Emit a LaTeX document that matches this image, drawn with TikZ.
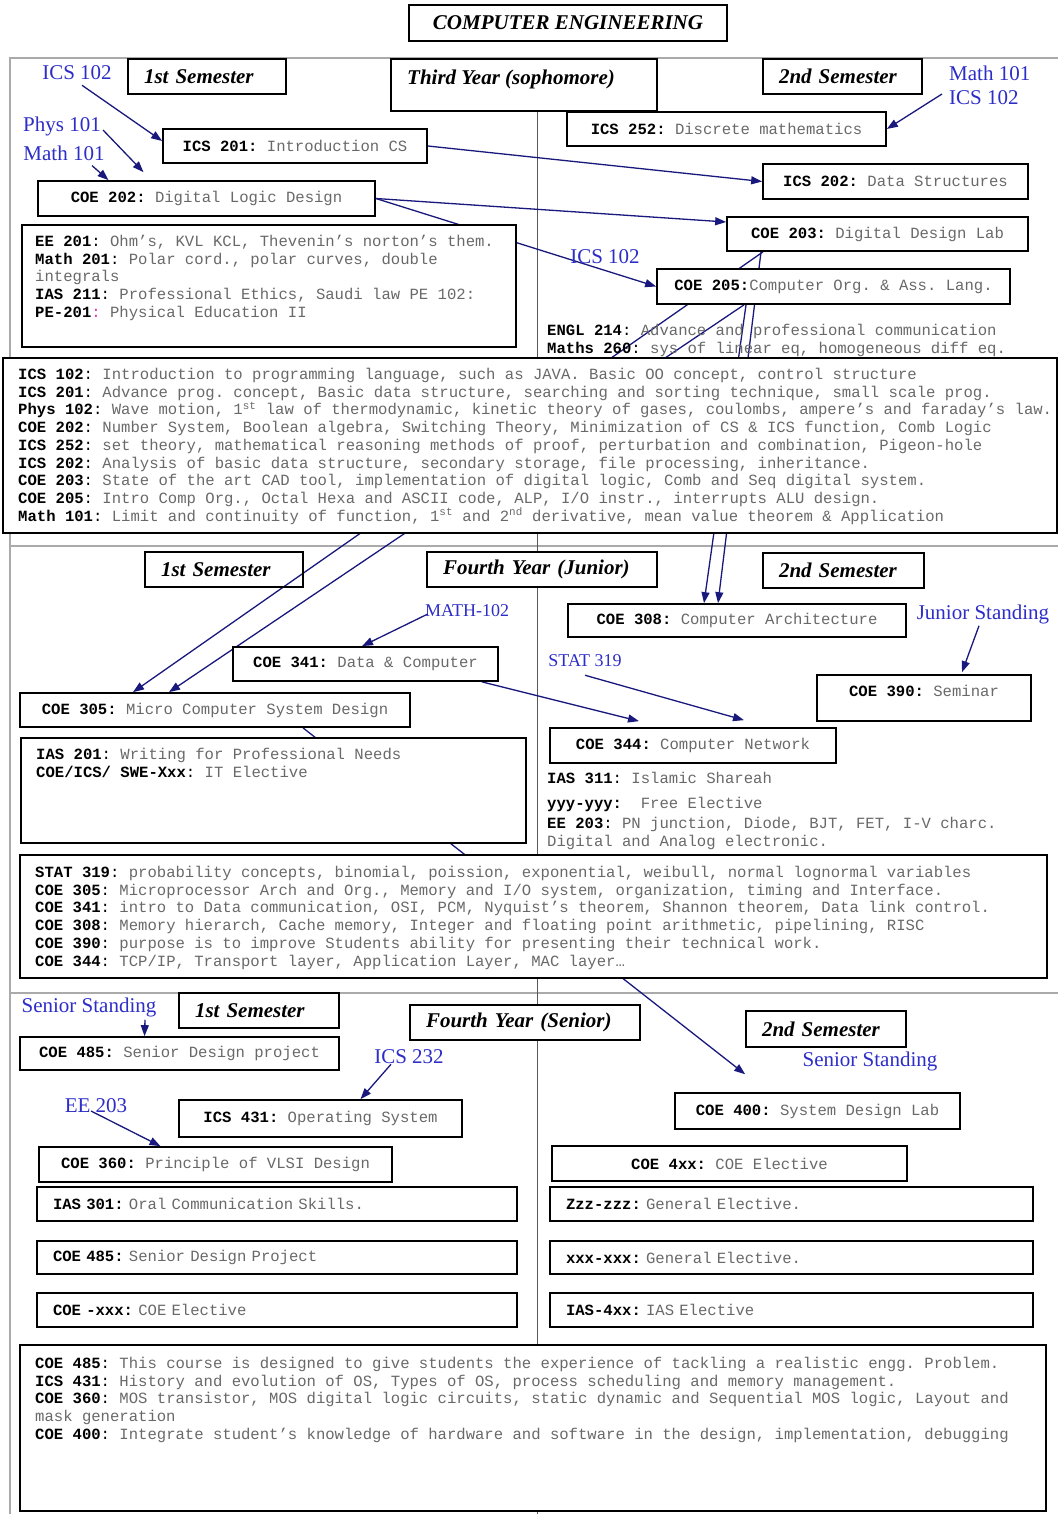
\documentclass[tikz,border=0pt]{standalone}
\usepackage{fontspec}
\setmainfont{Liberation Serif}
\newfontfamily\monof{Liberation Mono}
\usetikzlibrary{arrows.meta,calc}
\frenchspacing
\definecolor{lblue}{RGB}{45,45,200}
\definecolor{navy}{RGB}{25,25,125}
\definecolor{dgray}{RGB}{105,105,105}
\definecolor{framec}{RGB}{170,170,170}
\definecolor{pinkc}{RGB}{230,60,160}
\newcommand\cd[1]{\textbf{#1}}
\newcommand\ds[1]{\textcolor{dgray}{#1}}
\newcommand\bx[7][]{\node[box,minimum width={(#4-#2)*1pt},minimum height={(#5-#3)*1pt},#1] (#6) at ({(#2+#4)/2},{(#3+#5)/2}) {#7};}
\pgfdeclarelayer{bg}
\pgfsetlayers{bg,main}
\tikzset{
  box/.style={draw, line width=1.7pt, fill=white, inner sep=0pt, font=\monof\fontsize{15.6}{17.7}\selectfont\frenchspacing},
  hd/.style={box, font=\fontsize{21}{25}\selectfont\bfseries\itshape, align=left, inner xsep=16pt},
  hdtxt/.style={inner sep=0pt, font=\fontsize{21}{25}\selectfont\bfseries\itshape},
  lt/.style={inner xsep=16pt, text width=448pt, align=left},
  ltb/.style={inner xsep=16pt, text width=451pt, align=left},
  mt/.style={inner sep=0pt, anchor=north west, font=\monof\fontsize{15.6}{17.7}\selectfont\frenchspacing, align=left},
  ms/.style={inner sep=0pt, font=\monof\fontsize{15.6}{17.7}\selectfont\frenchspacing},
  bl/.style={inner sep=0pt, text=lblue, font=\fontsize{21}{24}\selectfont},
  bls/.style={inner sep=0pt, text=lblue, font=\fontsize{18}{20}\selectfont},
  arr/.style={draw=navy, line width=1.3pt, -{Triangle[length=11pt,width=8pt]}},
  frm/.style={draw=framec, line width=1.5pt}
}
\begin{document}
\begin{tikzpicture}[x=1pt,y=-1pt]
\useasboundingbox (0,0) rectangle (1058,1514);

% ---------- Third year ----------
\bx[hd,align=center,inner xsep=0pt]{409}{5}{727}{41}{title}{COMPUTER ENGINEERING}
\bx[hd,text width=126pt]{128}{59}{286}{94}{s1a}{1st Semester}
\bx[hd,text width=234pt]{391}{59}{657}{111}{ty3}{}
\node[hdtxt,anchor=west] (ty3t) at (407,79) {Third Year (sophomore)};
\bx[hd,text width=127pt]{763}{59}{922}{94}{s2a}{2nd Semester}

\bx{163}{129}{427}{163}{ics201}{\cd{ICS 201:} \ds{Introduction CS}}
\bx{567}{112}{886}{146}{ics252}{\cd{ICS 252:} \ds{Discrete mathematics}}
\bx{38}{181}{375}{216}{coe202}{\cd{COE 202:} \ds{Digital Logic Design}}
\bx{763}{164}{1028}{199}{ics202}{\cd{ICS 202:} \ds{Data Structures}}
\bx{727}{217}{1028}{251}{coe203}{\cd{COE 203:} \ds{Digital Design Lab}}
\bx{657}{269}{1010}{304}{coe205}{\cd{COE 205:}\ds{Computer Org. \& Ass. Lang.}}
\bx{22}{225}{516}{347}{yr3a}{}
\bx{3}{358}{1057}{533}{desc3}{}

\node[mt] (t3a) at (35,235) {\cd{EE 201}: \ds{Ohm’s, KVL KCL, Thevenin’s norton’s them.}\\
\cd{Math 201}: \ds{Polar cord., polar curves, double}\\
\ds{integrals}\\
\cd{IAS 211}: \ds{Professional Ethics, Saudi law PE 102:}\\
\cd{PE-201}\textcolor{pinkc}{:} \ds{Physical Education II}};
\node[mt] (t3b) at (547,324) {\cd{ENGL 214}: \ds{Advance and professional communication}\\
\cd{Maths 260}: \ds{sys of linear eq, homogeneous diff eq.}};
\node[mt] (t3c) at (18,368) {\cd{ICS 102}: \ds{Introduction to programming language, such as JAVA. Basic OO concept, control structure}\\
\cd{ICS 201}: \ds{Advance prog. concept, Basic data structure, searching and sorting technique, small scale prog.}\\
\cd{Phys 102}: \ds{Wave motion, 1\textsuperscript{st} law of thermodynamic, kinetic theory of gases, coulombs, ampere’s and faraday’s law.}\\
\cd{COE 202}: \ds{Number System, Boolean algebra, Switching Theory, Minimization of CS \& ICS function, Comb Logic}\\
\cd{ICS 252}: \ds{set theory, mathematical reasoning methods of proof, perturbation and combination, Pigeon-hole}\\
\cd{ICS 202}: \ds{Analysis of basic data structure, secondary storage, file processing, inheritance.}\\
\cd{COE 203}: \ds{State of the art CAD tool, implementation of digital logic, Comb and Seq digital system.}\\
\cd{COE 205}: \ds{Intro Comp Org., Octal Hexa and ASCII code, ALP, I/O instr., interrupts ALU design.}\\
\cd{Math 101}: \ds{Limit and continuity of function, 1\textsuperscript{st} and 2\textsuperscript{nd} derivative, mean value theorem \& Application}};

\node[bl] (lA) at (77,73) {ICS 102};
\node[bl] (lPhys) at (62,126) {Phys 101};
\node[bl] (lMath) at (64,153) {Math 101};
\node[bl,anchor=west] (lMathR) at (949,73) {Math 101};
\node[bl,anchor=west] (lICSR) at (949,98) {ICS 102};
\node[bl] (lB) at (605,257) {ICS 102};

% ---------- Fourth year (junior) ----------
\bx[hd,text width=126pt,fill=none]{145}{552}{303}{587}{s1b}{1st Semester}
\bx[hd,text width=198pt]{427}{552}{657}{587}{fy4}{Fourth Year (Junior)}
\bx[hd,text width=129pt]{763}{553}{924}{588}{s2b}{2nd Semester}
\bx{568}{604}{906}{637}{coe308}{\cd{COE 308:} \ds{Computer Architecture}}
\bx{233}{647}{498}{681}{coe341}{\cd{COE 341:} \ds{Data \& Computer}}
\bx{20}{693}{410}{727}{coe305}{\cd{COE 305:} \ds{Micro Computer System Design}}
\bx{817}{675}{1031}{721}{coe390}{}
\node[ms] (t390) at (924,691) {\cd{COE 390:} \ds{Seminar}};
\bx{550}{728}{836}{763}{coe344}{\cd{COE 344:} \ds{Computer Network}}
\bx{21}{738}{526}{843}{yr4a}{}
\bx{20}{855}{1047}{978}{desc4}{}

\node[mt] (t4a) at (36,748) {\cd{IAS 201}: \ds{Writing for Professional Needs}\\
\cd{COE/ICS/ SWE-Xxx}: \ds{IT Elective}};
\node[mt] (t4b) at (547,772) {\cd{IAS 311}: \ds{Islamic Shareah}};
\node[mt] (t4c) at (547,797) {\cd{yyy-yyy:} \ \ds{Free Elective}};
\node[mt] (t4d) at (547,817) {\cd{EE 203}: \ds{PN junction, Diode, BJT, FET, I-V charc.}\\
\ds{Digital and Analog electronic.}};
\node[mt] (t4e) at (35,866) {\cd{STAT 319}: \ds{probability concepts, binomial, poission, exponential, weibull, normal lognormal variables}\\
\cd{COE 305}: \ds{Microprocessor Arch and Org., Memory and I/O system, organization, timing and Interface.}\\
\cd{COE 341}: \ds{intro to Data communication, OSI, PCM, Nyquist’s theorem, Shannon theorem, Data link control.}\\
\cd{COE 308}: \ds{Memory hierarch, Cache memory, Integer and floating point arithmetic, pipelining, RISC}\\
\cd{COE 390}: \ds{purpose is to improve Students ability for presenting their technical work.}\\
\cd{COE 344}: \ds{TCP/IP, Transport layer, Application Layer, MAC layer…}};

\node[bls] (lM102) at (467,611) {MATH-102};
\node[bls] (lStat) at (585,661) {STAT 319};
\node[bl] (lJun) at (983,614) {Junior Standing};

% ---------- Fourth year (senior) ----------
\bx[hd,text width=128pt]{179}{993}{339}{1028}{s1c}{1st Semester}
\bx{20}{1037}{339}{1070}{coe485a}{\cd{COE 485:} \ds{Senior Design project}}
\bx[hd,text width=198pt]{410}{1005}{640}{1040}{fy5}{Fourth Year (Senior)}
\bx[hd,text width=128pt]{746}{1011}{906}{1047}{s2c}{2nd Semester}
\bx{179}{1100}{462}{1137}{ics431}{\cd{ICS 431:} \ds{Operating System}}
\bx{39}{1147}{392}{1182}{coe360}{\cd{COE 360:} \ds{Principle of VLSI Design}}
\bx[lt]{37}{1187}{517}{1221}{ias301}{\cd{IAS 301:} \ds{Oral Communication Skills.}}
\bx[lt]{37}{1241}{517}{1274}{coe485b}{\cd{COE 485:} \ds{Senior Design Project}}
\bx[lt]{37}{1293}{517}{1327}{coexxx}{\cd{COE -xxx:} \ds{COE Elective}}
\bx{675}{1093}{960}{1129}{coe400}{\cd{COE 400:} \ds{System Design Lab}}
\bx{552}{1146}{907}{1181}{coe4xx}{\cd{COE 4xx:} \ds{COE Elective}}
\bx[ltb]{550}{1187}{1033}{1221}{zzz}{\cd{Zzz-zzz:} \ds{General Elective.}}
\bx[ltb]{550}{1241}{1033}{1274}{xxx}{\cd{xxx-xxx:} \ds{General Elective.}}
\bx[ltb]{550}{1293}{1033}{1327}{ias4xx}{\cd{IAS-4xx:} \ds{IAS Elective}}
\bx{20}{1345}{1046}{1511}{desc5}{}

\node[mt] (t5a) at (35,1357) {\cd{COE 485}: \ds{This course is designed to give students the experience of tackling a realistic engg. Problem.}\\
\cd{ICS 431}: \ds{History and evolution of OS, Types of OS, process scheduling and memory management.}\\
\cd{COE 360}: \ds{MOS transistor, MOS digital logic circuits, static dynamic and Sequential MOS logic, Layout and}\\
\ds{mask generation}\\
\cd{COE 400}: \ds{Integrate student’s knowledge of hardware and software in the design, implementation, debugging}};

\node[bl] (lSen) at (89,1007) {Senior Standing};
\node[bl] (lI232) at (409,1057) {ICS 232};
\node[bl] (lEE) at (96,1106) {EE 203};
\node[bl] (lSen2) at (870,1061) {Senior Standing};

% ---------- background: frame and connectors ----------
\begin{pgfonlayer}{bg}
\fill[white] (0,0) rectangle (1058,1514);
\draw[frm] (10,1514) -- (10,58) -- (1058,58);
\draw[frm] (10,546) -- (1058,546);
\draw[frm] (10,993) -- (1058,993);
\draw[draw=black!65, line width=1pt] (537,111) -- (537,1514);

\draw[arr] ([xshift=5pt,yshift=-5pt]lA.south) -- ([yshift=5pt]ics201.west);
\draw[arr] ([xshift=2pt,yshift=-4pt]lPhys.east) -- ([xshift=-63pt,yshift=8pt]coe202.north);
\draw[arr] ([xshift=28pt,yshift=-5pt]lMath.south) -- ([xshift=-98pt]coe202.north);
\draw[arr] ([xshift=-7pt,yshift=4pt]lICSR.west) -- (ics252.east);
\draw[arr] (ics201.east) -- (ics202.west);
\draw[arr] (coe202.east) -- ([yshift=12pt]coe203.west);
\draw[arr] (coe202.east) -- (coe205.west);
\draw[arr] ([xshift=-114.5pt]coe203.south) -- ([xshift=-82pt]coe305.north);
\draw[arr] ([xshift=-89.5pt]coe205.south) -- ([xshift=-46pt]coe305.north);
\draw[arr] ([xshift=-116.5pt]coe203.south) -- ([xshift=-19pt]coe308.north);
\draw[arr] ([xshift=-87.5pt]coe205.south) -- ([xshift=-33pt]coe308.north);
\draw[arr] ([xshift=3pt,yshift=-3pt]lM102.west) -- ([xshift=-3.5pt]coe341.north);
\draw[arr] ([xshift=-17pt]coe341.south east) -- ([xshift=-54pt,yshift=6pt]coe344.north);
\draw[arr] ([yshift=-8pt]lStat.south) -- ([xshift=51pt,yshift=7pt]coe344.north);
\draw[arr] ([xshift=-4pt,yshift=-2pt]lJun.south) -- ([xshift=38pt,yshift=2pt]coe390.north);
\draw[arr, shorten >=29pt] ([xshift=88pt]coe305.south) -- ([xshift=-49.5pt]coe400.north);
\draw[arr] ([xshift=56pt,yshift=-3pt]lSen.south) -- ([xshift=-35pt]coe485a.north);
\draw[arr] ([xshift=-18pt]lI232.south) -- ([xshift=40pt]ics431.north);
\draw[arr] ([xshift=-5pt,yshift=-5pt]lEE.center) -- ([xshift=-55pt]coe360.north);
\end{pgfonlayer}
\end{tikzpicture}
\end{document}
